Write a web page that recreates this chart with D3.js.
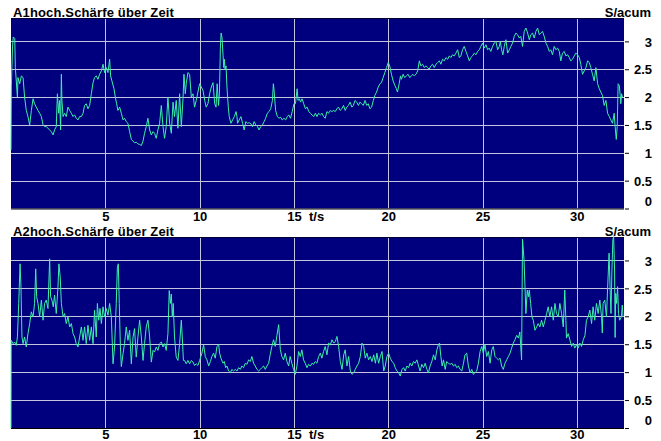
<!DOCTYPE html>
<html>
<head>
<meta charset="utf-8">
<script src="https://cdn.jsdelivr.net/npm/d3@7"></script>
<style>
  html, body { margin: 0; padding: 0; background: #ffffff; }
  svg { display: block; }
  text { font-family: "Liberation Sans", Arial, sans-serif; font-weight: bold; font-size: 13px; fill: #000; }
  .title { letter-spacing: 0.15px; }
</style>
</head>
<body>
<svg id="chart" width="661" height="441"></svg>
<script>
// Panel titles and axis annotations
const panelTitles = ["A1hoch.Schärfe über Zeit", "A2hoch.Schärfe über Zeit"];
const unitLabel = "S/acum";
const timeLabel = "t/s";
const timeTicks = [5, 10, 15, 20, 25, 30];
const valueTicks = [0, 0.5, 1, 1.5, 2, 2.5, 3];
const timeExtent = [0, 32.5];
const valueExtent = [0, 3.42];

// Sharpness over time, A1 (time in s, value in S/acum)
const a1Points = [
  [0,1.05],[0.02,2.2],[0.08,2.9],[0.12,3.08],[0.2,3.05],[0.23,2.53],[0.34,2.0],[0.37,2.35],[0.46,2.24],[0.55,2.38],
  [0.64,2.35],[0.72,2.0],[0.81,1.76],[0.9,1.65],[0.99,1.5],[1.08,1.76],[1.17,1.97],[1.25,1.88],[1.34,1.82],[1.43,1.76],
  [1.52,1.71],[1.61,1.65],[1.7,1.5],[1.78,1.47],[1.87,1.47],[1.96,1.44],[2.05,1.41],[2.14,1.38],[2.23,1.32],[2.31,1.41],
  [2.4,1.47],[2.46,2.06],[2.53,1.71],[2.58,1.94],[2.63,1.41],[2.67,2.41],[2.7,1.94],[2.76,1.65],[2.84,1.71],[2.93,1.65],
  [3.02,1.82],[3.11,1.76],[3.2,1.71],[3.29,1.65],[3.37,1.68],[3.46,1.62],[3.55,1.59],[3.64,1.65],[3.73,1.65],[3.82,1.71],
  [3.9,1.85],[3.99,1.88],[4.08,1.79],[4.17,1.85],[4.26,2.06],[4.35,2.26],[4.43,2.35],[4.52,2.38],[4.61,2.32],[4.7,2.41],
  [4.79,2.47],[4.88,2.59],[4.96,2.44],[5.05,2.53],[5.14,2.44],[5.23,2.68],[5.28,2.38],[5.35,2.29],[5.46,2.15],[5.53,2.0],
  [5.6,1.88],[5.67,1.76],[5.76,1.82],[5.85,1.71],[5.94,1.59],[6.02,1.62],[6.11,1.56],[6.2,1.53],[6.29,1.38],[6.38,1.24],
  [6.47,1.21],[6.55,1.18],[6.64,1.19],[6.73,1.16],[6.82,1.15],[6.91,1.13],[7.0,1.21],[7.08,1.35],[7.17,1.47],[7.26,1.62],
  [7.35,1.41],[7.44,1.32],[7.53,1.38],[7.61,1.35],[7.7,1.26],[7.79,1.41],[7.88,1.53],[7.97,1.85],[8.06,1.47],[8.14,1.26],
  [8.23,1.47],[8.32,2.0],[8.41,1.53],[8.5,1.35],[8.59,1.91],[8.67,1.65],[8.76,1.94],[8.85,1.44],[8.94,2.06],[9.03,1.47],
  [9.12,1.97],[9.17,2.41],[9.24,2.06],[9.29,2.24],[9.38,2.44],[9.47,2.41],[9.56,2.0],[9.65,2.06],[9.73,1.82],[9.82,1.94],
  [9.91,2.09],[10.0,2.24],[10.09,2.18],[10.18,2.12],[10.27,1.94],[10.35,1.82],[10.44,1.88],[10.53,2.06],[10.62,2.18],[10.71,2.26],
  [10.8,1.88],[10.87,1.82],[10.93,2.24],[11.0,1.85],[11.05,2.06],[11.1,2.88],[11.14,3.15],[11.19,3.06],[11.24,2.76],[11.28,2.53],
  [11.31,2.68],[11.35,2.5],[11.4,2.56],[11.45,2.18],[11.52,1.82],[11.57,1.65],[11.66,1.53],[11.75,1.59],[11.84,1.65],[11.93,1.74],
  [11.98,1.65],[12.01,1.53],[12.1,1.59],[12.19,1.65],[12.28,1.53],[12.36,1.41],[12.45,1.56],[12.54,1.53],[12.63,1.54],[12.72,1.52],
  [12.8,1.47],[12.89,1.56],[12.98,1.5],[13.07,1.47],[13.15,1.41],[13.24,1.47],[13.33,1.5],[13.42,1.56],[13.5,1.62],[13.59,1.71],
  [13.68,1.74],[13.77,1.79],[13.86,1.94],[13.91,2.24],[13.94,2.15],[14.03,1.76],[14.12,1.65],[14.21,1.62],[14.29,1.64],[14.38,1.59],
  [14.47,1.62],[14.56,1.59],[14.65,1.65],[14.73,1.68],[14.82,1.62],[14.91,1.74],[15.0,1.88],[15.08,1.88],[15.17,2.15],[15.22,1.94],
  [15.29,1.97],[15.35,1.91],[15.43,1.97],[15.52,1.88],[15.61,1.79],[15.7,1.82],[15.79,1.74],[15.87,1.71],[15.96,1.68],[16.05,1.65],
  [16.14,1.71],[16.22,1.65],[16.31,1.71],[16.4,1.68],[16.49,1.71],[16.57,1.65],[16.66,1.62],[16.75,1.74],[16.84,1.71],[16.93,1.76],
  [17.01,1.74],[17.1,1.76],[17.19,1.74],[17.28,1.79],[17.36,1.82],[17.45,1.76],[17.54,1.79],[17.63,1.85],[17.72,1.76],[17.8,1.82],
  [17.89,1.85],[17.98,1.91],[18.07,1.82],[18.15,1.85],[18.24,1.94],[18.33,1.91],[18.42,1.85],[18.5,1.91],[18.59,1.88],[18.68,1.85],
  [18.77,1.94],[18.86,1.85],[18.94,1.88],[19.03,1.79],[19.12,1.82],[19.21,1.94],[19.29,2.03],[19.38,2.09],[19.47,2.18],[19.56,2.24],
  [19.64,2.26],[19.73,2.35],[19.82,2.44],[19.91,2.53],[20.0,2.62],[20.08,2.56],[20.17,2.41],[20.26,2.29],[20.35,2.21],[20.43,2.15],
  [20.49,2.09],[20.58,2.24],[20.65,2.38],[20.7,2.32],[20.79,2.41],[20.87,2.35],[20.96,2.38],[21.05,2.41],[21.14,2.35],[21.22,2.38],
  [21.31,2.41],[21.38,2.38],[21.47,2.41],[21.56,2.47],[21.65,2.65],[21.73,2.56],[21.82,2.59],[21.91,2.53],[22.0,2.56],[22.09,2.53],
  [22.17,2.5],[22.26,2.56],[22.35,2.59],[22.44,2.53],[22.53,2.59],[22.62,2.62],[22.71,2.65],[22.79,2.59],[22.88,2.68],[22.97,2.65],
  [23.06,2.71],[23.15,2.68],[23.24,2.74],[23.32,2.71],[23.41,2.76],[23.5,2.74],[23.59,2.79],[23.68,2.85],[23.77,2.71],[23.85,2.74],
  [23.94,2.85],[24.03,2.91],[24.12,2.82],[24.21,2.74],[24.3,2.65],[24.38,2.71],[24.47,2.74],[24.56,2.79],[24.65,2.76],[24.74,2.82],
  [24.83,2.85],[24.91,2.91],[25.0,2.97],[25.09,2.88],[25.18,2.94],[25.27,2.85],[25.35,2.88],[25.44,2.82],[25.53,2.91],[25.62,2.97],
  [25.71,3.0],[25.8,2.85],[25.89,2.91],[25.94,3.0],[26.01,2.85],[26.08,2.76],[26.15,2.91],[26.24,3.03],[26.33,2.79],[26.42,2.85],
  [26.5,2.91],[26.59,2.97],[26.68,3.09],[26.77,3.15],[26.86,3.12],[26.95,3.06],[27.03,3.09],[27.12,2.91],[27.21,3.18],[27.3,3.24],
  [27.39,3.15],[27.48,3.03],[27.56,3.12],[27.65,3.15],[27.74,3.06],[27.83,3.18],[27.92,3.24],[28.01,3.12],[28.09,3.15],[28.18,3.18],
  [28.27,3.09],[28.36,2.97],[28.45,2.91],[28.54,2.82],[28.62,2.85],[28.71,2.76],[28.8,2.91],[28.89,2.85],[28.98,2.88],[29.07,2.82],
  [29.15,2.65],[29.24,2.79],[29.33,2.82],[29.42,2.74],[29.51,2.76],[29.6,2.71],[29.68,2.65],[29.77,2.68],[29.86,2.74],[29.95,2.79],
  [30.04,2.76],[30.13,2.71],[30.21,2.59],[30.3,2.41],[30.39,2.47],[30.48,2.53],[30.57,2.65],[30.66,2.62],[30.74,2.53],[30.83,2.41],
  [30.92,2.29],[31.01,2.53],[31.1,2.24],[31.19,2.15],[31.27,2.09],[31.36,2.03],[31.45,1.85],[31.54,1.94],[31.63,1.71],[31.72,1.65],
  [31.8,1.59],[31.89,1.53],[31.98,1.71],[32.03,1.47],[32.09,1.24],[32.14,1.47],[32.19,2.24],[32.25,2.21],[32.3,2.03],[32.33,1.88],
  [32.37,2.06],[32.42,2.0]
];

// Sharpness over time, A2 (time in s, value in S/acum)
const a2Points = [
  [0,0],[0.01,1.57],[0.11,1.51],[0.19,1.54],[0.28,1.48],[0.34,1.63],[0.41,2.23],[0.48,2.94],[0.53,2.52],[0.58,1.63],
  [0.64,1.51],[0.72,1.63],[0.81,1.45],[0.9,1.69],[0.99,1.87],[1.08,2.08],[1.17,1.99],[1.25,2.23],[1.31,2.85],[1.36,2.35],
  [1.43,2.23],[1.52,1.99],[1.61,2.29],[1.7,1.93],[1.78,2.23],[1.87,2.29],[1.96,2.14],[2.05,3.03],[2.1,2.35],[2.17,2.29],
  [2.24,2.17],[2.31,2.38],[2.4,2.05],[2.49,2.52],[2.54,2.94],[2.61,2.7],[2.67,2.23],[2.76,1.99],[2.84,2.05],[2.93,1.87],
  [3.02,1.99],[3.11,1.81],[3.2,1.87],[3.29,1.69],[3.37,1.63],[3.46,1.51],[3.55,1.45],[3.64,1.63],[3.73,1.81],[3.82,1.57],
  [3.9,1.81],[3.99,1.51],[4.08,1.84],[4.17,1.57],[4.26,1.81],[4.35,1.51],[4.43,2.11],[4.52,1.63],[4.58,2.23],[4.65,1.93],
  [4.72,2.14],[4.79,1.87],[4.88,2.17],[4.96,1.99],[5.05,2.14],[5.14,2.02],[5.23,2.23],[5.32,1.99],[5.41,1.15],[5.49,1.45],
  [5.58,2.23],[5.64,2.88],[5.69,2.94],[5.74,2.23],[5.8,1.45],[5.85,1.1],[5.94,1.33],[6.02,1.51],[6.11,1.81],[6.2,1.57],
  [6.29,1.75],[6.38,1.15],[6.47,1.63],[6.55,1.78],[6.64,1.27],[6.73,1.63],[6.82,1.93],[6.91,1.63],[7.0,1.21],[7.08,1.51],
  [7.17,1.81],[7.26,1.93],[7.35,1.63],[7.44,1.18],[7.53,1.39],[7.61,1.36],[7.7,1.45],[7.79,1.39],[7.88,1.51],[7.97,1.54],
  [8.06,1.45],[8.14,1.51],[8.23,1.39],[8.32,1.69],[8.39,2.46],[8.45,2.23],[8.5,2.4],[8.55,1.99],[8.6,2.23],[8.67,1.63],
  [8.76,1.27],[8.85,1.21],[8.94,1.51],[9.03,1.93],[9.08,1.63],[9.14,1.21],[9.2,1.21],[9.29,1.15],[9.38,1.21],[9.47,1.15],
  [9.56,1.21],[9.65,1.18],[9.73,1.12],[9.82,1.15],[9.91,1.12],[10.0,1.21],[10.04,1.25],[10.12,1.34],[10.21,1.49],[10.3,1.28],
  [10.39,1.22],[10.48,1.11],[10.57,1.19],[10.65,1.28],[10.74,1.34],[10.83,1.25],[10.92,1.46],[11.01,1.49],[11.06,1.34],[11.13,1.25],
  [11.24,1.16],[11.31,1.19],[11.38,1.08],[11.45,1.11],[11.54,1.02],[11.63,0.99],[11.71,1.05],[11.8,1.02],[11.89,1.05],[11.98,1.02],
  [12.07,1.08],[12.16,1.05],[12.24,1.11],[12.33,1.08],[12.42,1.16],[12.51,1.14],[12.6,1.22],[12.69,1.19],[12.77,1.28],[12.86,1.16],
  [12.95,1.11],[13.04,1.05],[13.13,1.02],[13.22,1.05],[13.3,1.08],[13.39,1.11],[13.48,1.05],[13.57,1.11],[13.66,1.16],[13.74,1.31],
  [13.83,1.46],[13.92,1.58],[14.01,1.46],[14.1,1.66],[14.19,1.85],[14.28,1.4],[14.36,1.28],[14.45,1.22],[14.54,1.34],[14.63,1.19],
  [14.72,1.11],[14.8,1.28],[14.89,1.16],[14.98,1.05],[15.07,0.96],[15.16,1.11],[15.25,1.37],[15.34,1.28],[15.42,1.4],[15.51,1.22],
  [15.6,1.16],[15.69,1.08],[15.78,1.14],[15.87,1.11],[15.96,1.16],[16.04,1.14],[16.13,1.19],[16.22,1.16],[16.31,1.28],[16.4,1.34],
  [16.48,1.25],[16.57,1.37],[16.66,1.46],[16.75,1.31],[16.84,1.52],[16.93,1.49],[17.02,1.58],[17.11,1.52],[17.2,1.55],[17.28,1.64],
  [17.37,1.46],[17.46,1.19],[17.55,1.05],[17.64,1.31],[17.72,1.4],[17.81,1.11],[17.9,1.28],[17.99,1.02],[18.08,0.96],[18.17,0.99],
  [18.25,1.05],[18.34,1.11],[18.43,1.16],[18.52,1.28],[18.61,1.52],[18.7,1.46],[18.78,1.25],[18.87,1.34],[18.96,1.22],[19.05,1.28],
  [19.14,1.19],[19.23,1.31],[19.32,1.16],[19.4,1.34],[19.49,1.16],[19.58,1.28],[19.67,1.37],[19.76,1.02],[19.84,1.11],[19.93,1.28],
  [20.02,1.34],[20.11,1.25],[20.2,1.19],[20.29,1.16],[20.37,1.08],[20.46,1.02],[20.55,0.99],[20.64,0.93],[20.73,1.05],[20.81,1.08],
  [20.9,1.02],[20.99,1.11],[21.08,1.08],[21.16,1.16],[21.25,1.11],[21.34,1.19],[21.43,1.16],[21.52,1.22],[21.61,1.11],[21.69,1.02],
  [21.78,1.14],[21.87,1.08],[21.96,1.16],[22.05,1.05],[22.13,0.99],[22.22,1.11],[22.31,1.19],[22.4,1.31],[22.49,1.22],[22.58,1.4],
  [22.66,1.49],[22.72,1.52],[22.79,1.28],[22.86,1.11],[22.93,1.22],[23.02,1.05],[23.1,1.19],[23.19,1.16],[23.28,1.14],[23.37,1.16],
  [23.46,1.11],[23.55,1.14],[23.63,1.08],[23.72,1.11],[23.81,1.05],[23.9,1.02],[23.99,1.16],[24.07,1.31],[24.16,1.34],[24.25,1.11],
  [24.34,0.99],[24.43,1.05],[24.51,0.96],[24.6,0.99],[24.69,1.02],[24.78,1.16],[24.87,1.37],[24.96,1.46],[25.04,1.34],[25.13,1.49],
  [25.22,1.28],[25.31,1.37],[25.4,1.16],[25.49,1.4],[25.57,1.46],[25.66,1.28],[25.75,1.25],[25.84,1.22],[25.93,1.25],[26.01,1.11],
  [26.1,1.05],[26.19,1.16],[26.28,1.22],[26.37,1.28],[26.46,1.34],[26.54,1.43],[26.63,1.52],[26.72,1.58],[26.81,1.66],[26.9,1.61],
  [26.98,1.72],[27.07,1.22],[27.12,3.38],[27.2,3.01],[27.25,2.53],[27.3,2.05],[27.37,2.47],[27.43,2.35],[27.48,2.47],[27.55,2.23],
  [27.62,1.99],[27.69,1.93],[27.78,1.75],[27.87,1.81],[27.95,1.87],[28.04,1.81],[28.13,1.93],[28.22,1.81],[28.31,1.93],[28.4,2.05],
  [28.48,2.17],[28.57,1.99],[28.66,2.17],[28.75,1.93],[28.84,2.23],[28.92,2.05],[29.01,1.99],[29.1,2.23],[29.19,2.05],[29.28,1.81],
  [29.36,2.47],[29.42,1.93],[29.45,1.61],[29.54,1.69],[29.63,1.58],[29.72,1.46],[29.81,1.52],[29.89,1.43],[29.98,1.49],[30.07,1.43],
  [30.16,1.52],[30.25,1.46],[30.34,1.58],[30.43,1.66],[30.51,1.93],[30.6,1.99],[30.69,2.11],[30.78,1.87],[30.86,2.17],[30.95,1.93],
  [31.04,2.23],[31.13,2.05],[31.22,2.29],[31.31,1.99],[31.35,1.7],[31.39,2.23],[31.48,2.29],[31.57,1.99],[31.65,2.65],[31.71,3.13],
  [31.76,2.53],[31.81,2.05],[31.86,2.83],[31.91,3.37],[31.95,3.43],[32.0,2.83],[32.03,1.62],[32.06,2.41],[32.11,2.23],[32.16,2.53],
  [32.21,2.05],[32.27,1.93],[32.36,1.99],[32.41,2.2],[32.45,1.99]
];

const seriesList = [a1Points, a2Points];

const svg = d3.select("#chart");
const plotLeft = 11, plotRight = 624;
// vertical extent of each panel and the baseline offset of its time labels
const panelBands = [[18, 208.5, 12.5], [237, 428, 11]];

const x = d3.scaleLinear().domain(timeExtent).range([plotLeft, plotRight]);

panelBands.forEach(([top, bottom, labelOffset], i) => {
  const y = d3.scaleLinear().domain(valueExtent).range([bottom, top]);
  const g = svg.append("g");

  // plot background
  g.append("rect")
    .attr("x", plotLeft).attr("y", top)
    .attr("width", plotRight - plotLeft).attr("height", bottom - top)
    .attr("fill", "#00007f");

  // grid
  g.append("g").selectAll("line").data(timeTicks).join("line")
    .attr("x1", d => Math.round(x(d)) + 0.5).attr("x2", d => Math.round(x(d)) + 0.5)
    .attr("y1", top).attr("y2", bottom)
    .attr("stroke", "#c4c4dc").attr("stroke-width", 1);
  g.append("g").selectAll("line").data(valueTicks.filter(v => v > 0)).join("line")
    .attr("x1", plotLeft).attr("x2", plotRight)
    .attr("y1", d => Math.round(y(d)) + 0.5).attr("y2", d => Math.round(y(d)) + 0.5)
    .attr("stroke", "#c4c4dc").attr("stroke-width", 1);

  // frame edges
  g.append("line").attr("x1", plotLeft).attr("x2", plotRight)
    .attr("y1", bottom + 0.5).attr("y2", bottom + 0.5).attr("stroke", "#000").attr("stroke-width", 1);
  g.append("line").attr("x1", plotLeft).attr("x2", plotRight)
    .attr("y1", top + 0.5).attr("y2", top + 0.5).attr("stroke", "#000033").attr("stroke-width", 1);

  // data trace
  const line = d3.line().x(d => x(d[0])).y(d => y(d[1]));
  g.append("path")
    .datum(seriesList[i])
    .attr("d", line)
    .attr("fill", "none")
    .attr("stroke", "#3cf0a8")
    .attr("stroke-width", 1)
    .attr("stroke-linejoin", "miter");

  // value axis on the right
  const yAxis = d3.axisRight(y).tickValues(valueTicks).tickSize(4).tickPadding(0)
    .tickFormat(d => String(d));
  const ya = g.append("g").attr("transform", `translate(${plotRight + 1},0)`).call(yAxis);
  ya.attr("font-family", null).attr("font-size", null);
  ya.select(".domain").remove();
  ya.selectAll(".tick line").attr("stroke", "#000");
  ya.selectAll(".tick text")
    .attr("x", 27).attr("text-anchor", "end").attr("dy", "0.36em")
    .attr("transform", d => d === 0 ? "translate(0,-8)" : null);

  // time axis labels
  const xAxis = d3.axisBottom(x).tickValues(timeTicks).tickSize(0).tickPadding(0)
    .tickFormat(d => String(d));
  const xa = g.append("g").attr("transform", `translate(0,${bottom})`).call(xAxis);
  xa.attr("font-family", null).attr("font-size", null);
  xa.select(".domain").remove();
  xa.selectAll(".tick text").attr("y", labelOffset).attr("dy", 0);

  g.append("text").attr("x", 309).attr("y", bottom + labelOffset).text(timeLabel);

  // titles
  g.append("text").attr("class", "title").attr("x", 13).attr("y", top - 1.5).text(panelTitles[i]);
  g.append("text").attr("x", 651).attr("y", top - 1.5).attr("text-anchor", "end").text(unitLabel);
});
</script>
</body>
</html>
